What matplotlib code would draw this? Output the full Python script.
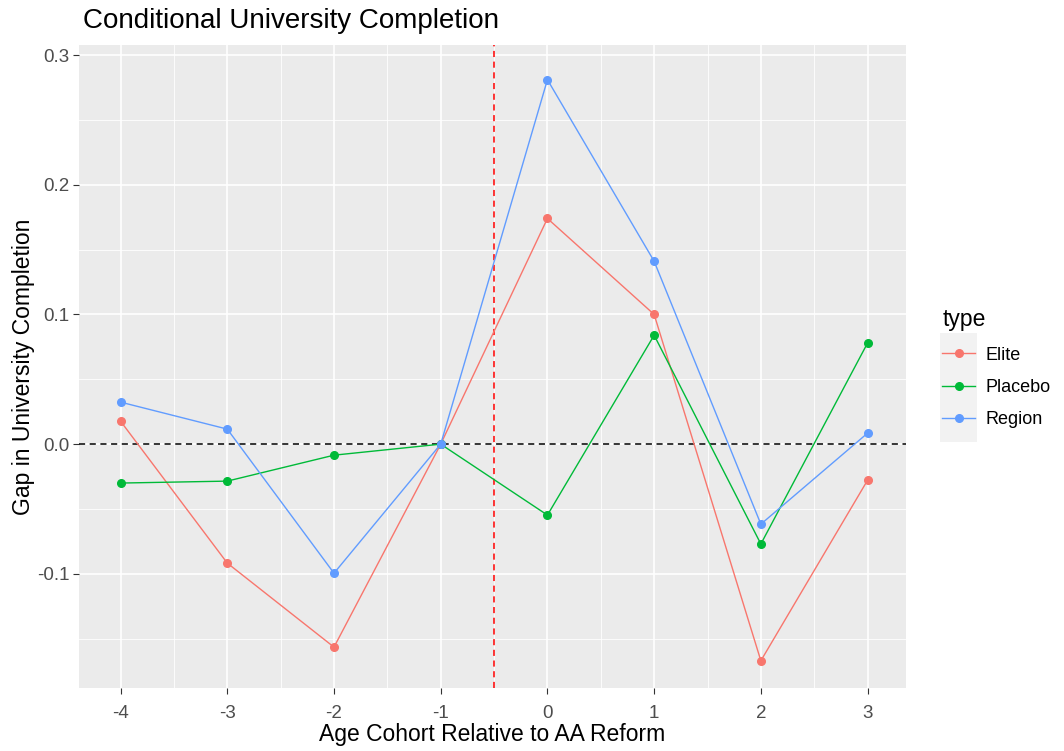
import numpy as np
import matplotlib.pyplot as plt
from matplotlib.patches import Rectangle

plt.rcParams['font.family'] = ['Liberation Sans', 'DejaVu Sans']
plt.rcParams['axes.unicode_minus'] = False

cohort = [-4, -3, -2, -1, 0, 1, 2, 3]
elite = [0.0177, -0.0917, -0.1565, 0.0, 0.174, 0.100, -0.167, -0.0278]
placebo = [-0.030, -0.0285, -0.0085, 0.0, -0.0547, 0.084, -0.077, 0.078]
region = [0.0324, 0.0116, -0.0995, 0.0, 0.281, 0.141, -0.0617, 0.0085]

series = [('Elite', elite, '#F8766D'), ('Placebo', placebo, '#00BA38'), ('Region', region, '#619CFF')]

fig = plt.figure(figsize=(10.64, 7.51), dpi=100)
ax = fig.add_axes([0.0742, 0.0839, 0.7773, 0.8561])
ax.set_facecolor('#EBEBEB')

ax.set_ylim(-0.188, 0.3077)
ax.set_xlim(-4.39, 3.36)

ax.set_xticks(cohort)
ax.set_yticks([-0.1, 0.0, 0.1, 0.2, 0.3])
ax.set_yticklabels(['-0.1', '0.0', '0.1', '0.2', '0.3'])
ax.set_xticks(np.arange(-3.5, 3.0, 1.0), minor=True)
ax.set_yticks([-0.15, -0.05, 0.05, 0.15, 0.25], minor=True)
ax.grid(which='major', color='white', lw=1.2)
ax.grid(which='minor', color='white', lw=0.6)
ax.set_axisbelow(True)
for s in ax.spines.values():
    s.set_visible(False)
ax.tick_params(which='major', length=4, color='#333333', labelcolor='#4D4D4D', labelsize=13.5)
ax.tick_params(axis='x', pad=8)
ax.tick_params(axis='y', pad=3)
ax.tick_params(which='minor', length=0)

ax.axhline(0, color='black', lw=1.1, ls=(0, (4, 3)))
ax.axvline(-0.5, color='red', lw=1.1, ls=(0, (4, 3)))

for name, vals, col in series:
    ax.plot(cohort, vals, color=col, lw=1.0, marker='o', ms=5.5, label=name)

ax.set_xlabel('Age Cohort Relative to AA Reform', fontsize=16.5, labelpad=1)
ax.set_ylabel('Gap in University Completion', fontsize=16.5, labelpad=1)
ax.set_title('Conditional University Completion', fontsize=20, loc='left', x=0.005, pad=12)

# grey legend key background, as in ggplot
fig.patches.append(Rectangle((940 / 1064, 1 - 442 / 751), 37 / 1064, 109 / 751,
                             transform=fig.transFigure, facecolor='#F2F2F2', edgecolor='none', zorder=-1))

leg = fig.legend(title='type', loc='upper left', bbox_to_anchor=(926 / 1064, 1 - 292 / 751),
                 frameon=False, fontsize=13, title_fontsize=16.5, handlelength=1.8,
                 labelspacing=0.85, handletextpad=0.6)
leg._legend_box.align = 'left'

fig.savefig('out.png', dpi=100)
